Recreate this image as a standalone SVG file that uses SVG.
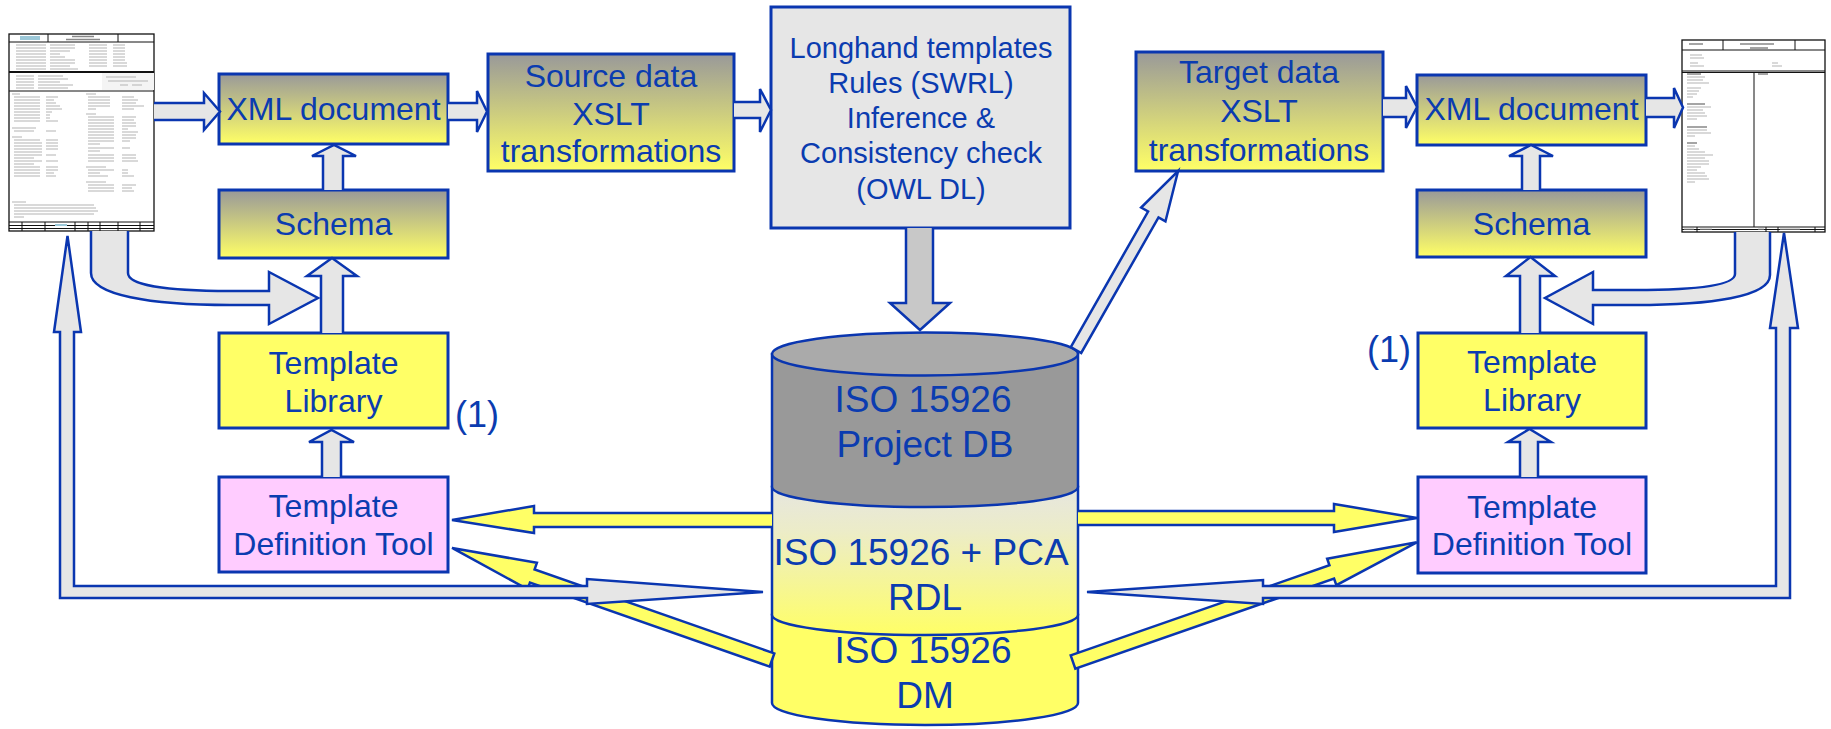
<svg xmlns="http://www.w3.org/2000/svg" width="1831" height="729" viewBox="0 0 1831 729">
<defs>
<linearGradient id="gy" x1="0" y1="0" x2="0" y2="1"><stop offset="0" stop-color="#999999"/><stop offset="1" stop-color="#ffff66"/></linearGradient>
<linearGradient id="cyl2" x1="0" y1="0" x2="0" y2="1"><stop offset="0" stop-color="#e6e6e0"/><stop offset="0.3" stop-color="#ececc8"/><stop offset="1" stop-color="#ffff66"/></linearGradient>
<style>
.box{stroke:#0a36b0;stroke-width:3}
.grad{fill:url(#gy)}
.yel{fill:#ffff66}
.pink{fill:#ffccff}
.lg{fill:#e6e6e6}
.t{font-family:"Liberation Sans",Arial,sans-serif;font-size:32px;fill:#0b3cb0;text-anchor:middle}
.t29{font-size:29px}
.t37{font-size:37px}
.arr{stroke:#0a36b0;stroke-width:2.5;stroke-linejoin:miter}
.ga{fill:#e6e6e6}
.da{fill:#c8c8c8}
.ya{fill:#ffff66}
.doc{fill:#fff;stroke:#111;stroke-width:1.3}
.dl{stroke:#111;stroke-width:1;fill:none}
.tx{stroke:#b4b4b4;stroke-width:1.2;fill:none}
.tb{stroke:#888;stroke-width:1.4;fill:none}
.cy{stroke:#0a36b0;stroke-width:2.5}
</style>
</defs>
<rect width="1831" height="729" fill="#ffffff"/>

<g id="doc-left">
<rect class="doc" x="9" y="34" width="145" height="197"/>
<path class="dl" d="M9,42 H154 M48,34 V42 M118,34 V42 M9,91 H154 M9,222 H154 M9,225.5 H154 M9,228.5 H154 M22,222 V231 M45,222 V231 M75,222 V231 M88,222 V231 M100,222 V231 M118,222 V231 M140,222 V231"/>
<path d="M9,72 H154" stroke="#111" stroke-width="2"/>
<rect x="20" y="36" width="20" height="4" fill="#9cc8d8"/>
<rect x="55" y="224" width="12" height="2" fill="#9cc8d8"/>
<rect x="102" y="73" width="52" height="17" fill="#f4f4f4"/>
<path class="tb" d="M72,36.5 h22 M66,39.5 h34"/>
<path class="tx" d="M16,45 h30 m4,0 h25 m14,0 h18 m6,0 h12 M16,48 h30 m4,0 h25 m14,0 h18 m6,0 h12 M16,51 h30 m4,0 h20 m19,0 h18 m6,0 h12 M16,54 h30 m4,0 h10 m29,0 h18 m6,0 h12 M16,57 h30 m4,0 h15 m24,0 h18 m6,0 h12 M16,60 h30 m4,0 h25 m14,0 h18 m6,0 h12 M16,63 h30 m4,0 h25 m14,0 h18 m6,0 h14 M16,66 h30 m4,0 h20 m19,0 h18 m6,0 h14 M16,69 h30 m4,0 h28"/>
<path class="tx" d="M16,76 h18 m4,0 h25 M16,79 h18 m4,0 h30 M16,82 h18 m4,0 h22 M16,85 h18 m4,0 h35 M16,88 h18 m4,0 h30 M106,77 h30 M108,81 h40 M120,85 h8 m4,0 h10"/>
<path class="tx" d="M12,94 h8 M14,97 h26 m6,0 h12 M14,100 h26 m6,0 h8 M14,103 h26 m6,0 h10 M14,106 h26 m6,0 h14 M14,109 h26 m6,0 h16 M14,112 h26 m6,0 h6 M14,115 h26 m6,0 h4 M14,118 h26 m6,0 h4 M14,121 h26 m6,0 h12 M12,128 h24 M14,131 h20 m12,0 h10 M12,137 h10 M14,140 h26 m6,0 h12 M14,143 h28 m4,0 h12 M14,146 h28 m4,0 h12 M14,149 h28 m4,0 h12 M14,152 h28 M14,155 h28 m4,0 h10 M14,158 h20 M14,161 h28 m4,0 h12 M14,164 h20 M14,167 h26 m6,0 h12 M14,170 h26 m6,0 h12 M14,173 h26 m6,0 h8 M14,176 h26 m6,0 h10"/>
<path class="tx" d="M86,94 h10 M88,97 h22 m12,0 h12 M88,100 h22 m12,0 h16 M88,103 h22 m12,0 h14 M88,106 h22 m12,0 h22 M88,109 h8 m26,0 h12 M86,114 h10 M88,117 h26 m8,0 h14 M88,120 h26 m8,0 h12 M88,123 h26 m8,0 h14 M88,126 h26 m8,0 h14 M88,129 h26 m8,0 h6 M88,132 h26 m8,0 h16 M88,135 h26 m8,0 h14 M88,138 h26 m8,0 h14 M88,141 h26 m8,0 h8 M88,144 h12 M88,148 h26 m8,0 h8 M88,151 h12 M88,155 h26 m8,0 h14 M88,158 h26 m8,0 h14 M88,161 h26 m8,0 h16 M86,167 h20 M88,170 h26 m8,0 h6 M88,173 h12 m22,0 h6 M88,176 h20 m14,0 h12 M86,182 h20 M88,185 h26 m8,0 h14 M88,188 h26 m8,0 h10 M88,191 h26 m8,0 h12"/>
<path class="tx" d="M12,202 h14 M14,205 h80 M14,208 h82 M14,211 h84 M14,214 h80 M14,217 h10"/>
</g>

<g id="doc-right">
<rect class="doc" x="1682" y="40" width="143" height="192"/>
<path class="dl" d="M1682,50 H1825 M1723,40 V50 M1795,40 V50 M1682,71 H1825 M1682,72.5 H1825 M1754,72.5 V227 M1682,227 H1825 M1682,229.5 H1825 M1697,227 V232 M1766,227 V232 M1778,227 V232 M1815,227 V232"/>
<path class="tb" d="M1689,44 h14 M1740,44 h34 M1750,48 h18 M1687,74 h14 M1758,74 h10 M1687,104 h18 M1687,127 h20 M1687,143 h10"/>
<path class="tx" d="M1690,55 h12 M1690,58 h14 M1690,63 h8 M1690,66 h14 M1772,63 h6 M1772,66 h10 M1687,77 h18 M1687,80 h16 M1687,83 h22 M1687,88 h14 M1687,91 h12 M1687,94 h10 M1687,97 h6 M1687,107 h24 M1687,110 h16 M1687,113 h18 M1687,116 h20 M1687,119 h10 M1687,130 h20 M1687,133 h24 M1687,136 h8 M1687,146 h8 M1687,149 h12 M1687,152 h18 M1687,155 h26 M1687,158 h18 M1687,161 h22 M1687,164 h22 M1687,167 h14 M1687,170 h10 M1687,173 h18 M1687,176 h20 M1687,179 h22 M1687,182 h8 M1684,229 h10 M1700,229 h12 M1758,229 h6 M1780,229 h20"/>
</g>

<g id="xml-left"><rect class="box grad" x="219" y="74" width="229" height="70"/><text class="t" x="333.5" y="120">XML document</text></g>
<g id="schema-left"><rect class="box grad" x="219" y="190" width="229" height="68"/><text class="t" x="333.5" y="235">Schema</text></g>
<g id="library-left"><rect class="box yel" x="219" y="333" width="229" height="95"/><text class="t" x="333.5" y="374">Template</text><text class="t" x="333.5" y="412">Library</text></g>
<g id="tdt-left"><rect class="box pink" x="219" y="477" width="229" height="95"/><text class="t" x="333.5" y="517">Template</text><text class="t" x="333.5" y="555">Definition Tool</text></g>
<g id="note-left"><text class="t" x="477" y="427" style="font-size:36px">(1)</text></g>

<g id="source-xslt"><rect class="box grad" x="488" y="54" width="246" height="117"/><text class="t" x="611" y="87">Source data</text><text class="t" x="611" y="125">XSLT</text><text class="t" x="611" y="162">transformations</text></g>

<g id="longhand"><rect class="box lg" x="771" y="7" width="299" height="221"/>
<text class="t t29" x="921" y="58">Longhand templates</text>
<text class="t t29" x="921" y="93">Rules (SWRL)</text>
<text class="t t29" x="921" y="128">Inference &amp;</text>
<text class="t t29" x="921" y="163">Consistency check</text>
<text class="t t29" x="921" y="199">(OWL DL)</text></g>

<g id="target-xslt"><rect class="box grad" x="1136" y="52" width="247" height="119"/><text class="t" x="1259" y="83">Target data</text><text class="t" x="1259" y="122">XSLT</text><text class="t" x="1259" y="161">transformations</text></g>

<g id="xml-right"><rect class="box grad" x="1417" y="75" width="229" height="70"/><text class="t" x="1531.5" y="120">XML document</text></g>
<g id="schema-right"><rect class="box grad" x="1417" y="190" width="229" height="67"/><text class="t" x="1531.5" y="235">Schema</text></g>
<g id="library-right"><rect class="box yel" x="1418" y="333" width="228" height="95"/><text class="t" x="1532" y="373">Template</text><text class="t" x="1532" y="411">Library</text></g>
<g id="tdt-right"><rect class="box pink" x="1418" y="477" width="228" height="96"/><text class="t" x="1532" y="518">Template</text><text class="t" x="1532" y="555">Definition Tool</text></g>
<g id="note-right"><text class="t" x="1389" y="362" style="font-size:36px">(1)</text></g>

<g id="iso-db">
<path class="cy" fill="#ffff66" d="M772,615 V703 A153,22 0 0 0 1078,703 V615 Z"/>
<path class="cy" fill="url(#cyl2)" d="M772,487 V615 A153,20 0 0 0 1078,615 V487 Z"/>
<path class="cy" fill="#999999" d="M772,354 V487 A153,20 0 0 0 1078,487 V354 Z"/>
<ellipse class="cy" cx="925" cy="354" rx="153" ry="21.5" fill="#aaaaaa"/>
<text class="t t37" x="923" y="412">ISO 15926</text>
<text class="t t37" x="925" y="457">Project DB</text>
<text class="t t37" x="921" y="565">ISO 15926 + PCA</text>
<text class="t t37" x="925" y="610">RDL</text>
<text class="t t37" x="923" y="663">ISO 15926</text>
<text class="t t37" x="925" y="708">DM</text>
</g>

<g id="connectors">
<!-- yellow arrows from DB to template definition tools -->
<path class="arr ya" d="M772,527 H534 V533 L452,520 L534,506 V513 H772"/>
<path class="arr ya" d="M1078,511 H1334 V504 L1417,518 L1334,532 V525 H1078"/>
<path class="arr ya" transform="translate(772,660) rotate(199.3)" d="M0,-7 H254 V-14 L339,0 L254,14 V7 H0 Z"/>
<path class="arr ya" transform="translate(1073,662) rotate(-19.2)" d="M0,-7 H274 V-14 L364,0 L274,14 V7 H0 Z"/>
<!-- gray outer L arrows -->
<path class="arr ga" d="M74,586 V332 H81 L67.5,236 L54,332 H60 V598 H587 V604 L763,592 L587,579 V586 Z"/>
<path class="arr ga" d="M1776,586 V328 H1770 L1784,233 L1798,328 H1790 V598 H1263 V604 L1087,592 L1263,580 V586 Z"/>
<!-- horizontal top chain -->
<path class="arr ga" d="M154,103 H204 V93 L220,111.5 L204,130 V120 H154"/>
<path class="arr ga" d="M448,103 H477 V91 L487,111.5 L477,132 V120 H448"/>
<path class="arr ga" d="M734,102 H760 V89 L771,110 L760,132 V118 H734"/>
<path class="arr ga" d="M1383,98 H1406 V86 L1417,107 L1406,128 V117 H1383"/>
<path class="arr ga" d="M1646,98 H1674 V88 L1683,107.5 L1674,128 V117 H1646"/>
<!-- vertical arrows left -->
<path class="arr ga" d="M323,190 V156 H312 L334,145 L356,156 H343 V190"/>
<path class="arr ga" d="M321,333 V276 H307 L332,258 L357,276 H343 V333"/>
<path class="arr ga" d="M322,477 V442 H309 L331.5,430 L354,442 H341 V477"/>
<!-- vertical arrows right -->
<path class="arr ga" d="M1522,190 V156 H1509 L1531,145 L1553,156 H1540 V190"/>
<path class="arr ga" d="M1520,333 V276 H1506 L1530.5,257 L1555,276 H1540 V333"/>
<path class="arr ga" d="M1520,477 V442 H1508 L1529.5,429 L1551,442 H1538 V477"/>
<!-- curved doc arrows -->
<path class="arr ga" d="M91,231 V273 C91,295 150,305 230,305 H269 V324 L318,298 L269,272 V291 H230 C165,291 128,285 128,273 V231"/>
<path class="arr ga" d="M1770,232 V275 C1770,297 1710,305 1635,305 H1593 V324 L1545,298 L1593,272 V290 H1635 C1700,290 1735,285 1735,274 V232"/>
<!-- longhand down to DB -->
<path class="arr da" d="M906,228 V303 H890 L920,330 L950,303 H933 V228"/>
<!-- DB up to target -->
<path class="arr ga" transform="translate(1076,350) rotate(-60.3)" d="M0,-6 H156 V-14 L206,0 L156,14 V6 H0 Z"/>
</g>
</svg>
